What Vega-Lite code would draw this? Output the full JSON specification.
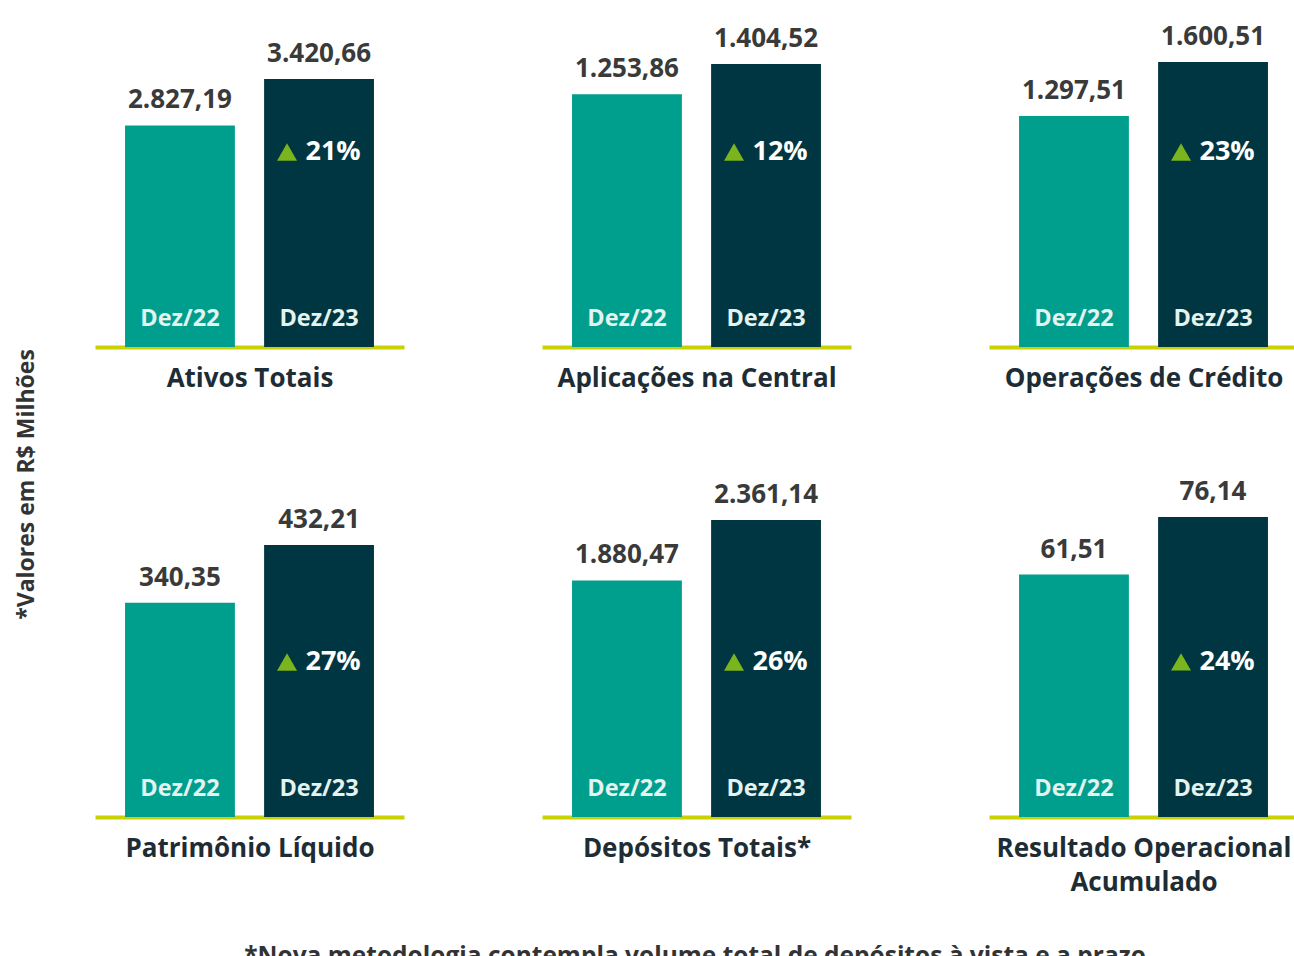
{
  "$schema": "https://vega.github.io/schema/vega-lite/v6.json",
  "background": "white",
  "padding": {"left": 15, "top": 23, "right": 0, "bottom": 0},
  "config": {
    "locale": {"number": {"decimal": ",", "thousands": ".", "grouping": [3], "currency": ["R$ ", ""]}},
    "view": {"stroke": null},
    "font": "Open Sans",
    "axisX": {"labels": false, "ticks": false, "domainColor": "#C9D200", "domainWidth": 4, "titleFontSize": 26, "titleFontWeight": "bold", "titleColor": "#1E2D35", "titlePadding": 18, "titleLineHeight": 34, "titleFont": "Open Sans"}
  },
  "data": {"values": [
    {"ind": "Ativos Totais", "periodo": "Dez/22", "valor": 2827.19},
    {"ind": "Ativos Totais", "periodo": "Dez/23", "valor": 3420.66, "var": 0.21},
    {"ind": "Aplicações na Central", "periodo": "Dez/22", "valor": 1253.86},
    {"ind": "Aplicações na Central", "periodo": "Dez/23", "valor": 1404.52, "var": 0.12},
    {"ind": "Operações de Crédito", "periodo": "Dez/22", "valor": 1297.51},
    {"ind": "Operações de Crédito", "periodo": "Dez/23", "valor": 1600.51, "var": 0.23},
    {"ind": "Patrimônio Líquido", "periodo": "Dez/22", "valor": 340.35},
    {"ind": "Patrimônio Líquido", "periodo": "Dez/23", "valor": 432.21, "var": 0.27},
    {"ind": "Depósitos Totais", "periodo": "Dez/22", "valor": 1880.47},
    {"ind": "Depósitos Totais", "periodo": "Dez/23", "valor": 2361.14, "var": 0.26},
    {"ind": "Resultado Operacional Acumulado", "periodo": "Dez/22", "valor": 61.51},
    {"ind": "Resultado Operacional Acumulado", "periodo": "Dez/23", "valor": 76.14, "var": 0.24}
  ]},
  "spacing": 40,
  "vconcat": [
    {
      "title": {"text": "*Valores em R$ Milhões", "orient": "left", "anchor": "middle", "fontSize": 23, "fontWeight": "bold", "color": "#333333", "offset": 56, "dx": -25, "font": "Open Sans"},
      "spacing": 87,
      "vconcat": [
        {
          "spacing": 138,
          "hconcat": [
            {
              "width": 309, "height": 320,
              "transform": [{"filter": "datum.ind == 'Ativos Totais'"}],
              "encoding": {
                "x": {"field": "periodo", "type": "nominal", "scale": {"paddingInner": 0.21, "paddingOuter": 0.216}, "axis": {"title": "Ativos Totais"}},
                "y": {"field": "valor", "type": "quantitative", "scale": {"domain": [0, 4084], "nice": false}, "axis": null}
              },
              "layer": [
                {"mark": {"type": "bar"}, "encoding": {"color": {"field": "periodo", "type": "nominal", "scale": {"domain": ["Dez/22", "Dez/23"], "range": ["#009E8C", "#003641"]}, "legend": null}}},
                {"mark": {"type": "text", "baseline": "alphabetic", "dy": -17, "fontSize": 26, "fontWeight": "bold", "color": "#3A3A3A"}, "encoding": {"text": {"field": "valor", "type": "quantitative", "format": ",.2f"}}},
                {"mark": {"type": "text", "baseline": "alphabetic", "dy": -21, "fontSize": 23.5, "fontWeight": "bold", "color": "#E4F3EF"}, "encoding": {"y": {"datum": 0}, "text": {"field": "periodo"}}},
                {"transform": [{"filter": "datum.var != null"}], "mark": {"type": "point", "shape": "triangle-up", "filled": true, "size": 400, "opacity": 1, "color": "#7AB51D", "xOffset": -32, "yOffset": 73}, "encoding": {}},
                {"transform": [{"filter": "datum.var != null"}], "mark": {"type": "text", "baseline": "middle", "align": "center", "xOffset": 14, "yOffset": 73, "fontSize": 27, "fontWeight": "bold", "color": "#FFFFFF"}, "encoding": {"text": {"field": "var", "type": "quantitative", "format": ".0%"}}}
              ]
            },
            {
              "width": 309, "height": 320,
              "transform": [{"filter": "datum.ind == 'Aplicações na Central'"}],
              "encoding": {
                "x": {"field": "periodo", "type": "nominal", "scale": {"paddingInner": 0.21, "paddingOuter": 0.216}, "axis": {"title": "Aplicações na Central"}},
                "y": {"field": "valor", "type": "quantitative", "scale": {"domain": [0, 1588], "nice": false}, "axis": null}
              },
              "layer": [
                {"mark": {"type": "bar"}, "encoding": {"color": {"field": "periodo", "type": "nominal", "scale": {"domain": ["Dez/22", "Dez/23"], "range": ["#009E8C", "#003641"]}, "legend": null}}},
                {"mark": {"type": "text", "baseline": "alphabetic", "dy": -17, "fontSize": 26, "fontWeight": "bold", "color": "#3A3A3A"}, "encoding": {"text": {"field": "valor", "type": "quantitative", "format": ",.2f"}}},
                {"mark": {"type": "text", "baseline": "alphabetic", "dy": -21, "fontSize": 23.5, "fontWeight": "bold", "color": "#E4F3EF"}, "encoding": {"y": {"datum": 0}, "text": {"field": "periodo"}}},
                {"transform": [{"filter": "datum.var != null"}], "mark": {"type": "point", "shape": "triangle-up", "filled": true, "size": 400, "opacity": 1, "color": "#7AB51D", "xOffset": -32, "yOffset": 88}, "encoding": {}},
                {"transform": [{"filter": "datum.var != null"}], "mark": {"type": "text", "baseline": "middle", "align": "center", "xOffset": 14, "yOffset": 88, "fontSize": 27, "fontWeight": "bold", "color": "#FFFFFF"}, "encoding": {"text": {"field": "var", "type": "quantitative", "format": ".0%"}}}
              ]
            },
            {
              "width": 309, "height": 320,
              "transform": [{"filter": "datum.ind == 'Operações de Crédito'"}],
              "encoding": {
                "x": {"field": "periodo", "type": "nominal", "scale": {"paddingInner": 0.21, "paddingOuter": 0.216}, "axis": {"title": "Operações de Crédito"}},
                "y": {"field": "valor", "type": "quantitative", "scale": {"domain": [0, 1797], "nice": false}, "axis": null}
              },
              "layer": [
                {"mark": {"type": "bar"}, "encoding": {"color": {"field": "periodo", "type": "nominal", "scale": {"domain": ["Dez/22", "Dez/23"], "range": ["#009E8C", "#003641"]}, "legend": null}}},
                {"mark": {"type": "text", "baseline": "alphabetic", "dy": -17, "fontSize": 26, "fontWeight": "bold", "color": "#3A3A3A"}, "encoding": {"text": {"field": "valor", "type": "quantitative", "format": ",.2f"}}},
                {"mark": {"type": "text", "baseline": "alphabetic", "dy": -21, "fontSize": 23.5, "fontWeight": "bold", "color": "#E4F3EF"}, "encoding": {"y": {"datum": 0}, "text": {"field": "periodo"}}},
                {"transform": [{"filter": "datum.var != null"}], "mark": {"type": "point", "shape": "triangle-up", "filled": true, "size": 400, "opacity": 1, "color": "#7AB51D", "xOffset": -32, "yOffset": 90}, "encoding": {}},
                {"transform": [{"filter": "datum.var != null"}], "mark": {"type": "text", "baseline": "middle", "align": "center", "xOffset": 14, "yOffset": 90, "fontSize": 27, "fontWeight": "bold", "color": "#FFFFFF"}, "encoding": {"text": {"field": "var", "type": "quantitative", "format": ".0%"}}}
              ]
            }
          ]
        },
        {
          "spacing": 138,
          "hconcat": [
            {
              "width": 309, "height": 320,
              "transform": [{"filter": "datum.ind == 'Patrimônio Líquido'"}],
              "encoding": {
                "x": {"field": "periodo", "type": "nominal", "scale": {"paddingInner": 0.21, "paddingOuter": 0.216}, "axis": {"title": "Patrimônio Líquido"}},
                "y": {"field": "valor", "type": "quantitative", "scale": {"domain": [0, 508.5], "nice": false}, "axis": null}
              },
              "layer": [
                {"mark": {"type": "bar"}, "encoding": {"color": {"field": "periodo", "type": "nominal", "scale": {"domain": ["Dez/22", "Dez/23"], "range": ["#009E8C", "#003641"]}, "legend": null}}},
                {"mark": {"type": "text", "baseline": "alphabetic", "dy": -17, "fontSize": 26, "fontWeight": "bold", "color": "#3A3A3A"}, "encoding": {"text": {"field": "valor", "type": "quantitative", "format": ",.2f"}}},
                {"mark": {"type": "text", "baseline": "alphabetic", "dy": -21, "fontSize": 23.5, "fontWeight": "bold", "color": "#E4F3EF"}, "encoding": {"y": {"datum": 0}, "text": {"field": "periodo"}}},
                {"transform": [{"filter": "datum.var != null"}], "mark": {"type": "point", "shape": "triangle-up", "filled": true, "size": 400, "opacity": 1, "color": "#7AB51D", "xOffset": -32, "yOffset": 117}, "encoding": {}},
                {"transform": [{"filter": "datum.var != null"}], "mark": {"type": "text", "baseline": "middle", "align": "center", "xOffset": 14, "yOffset": 117, "fontSize": 27, "fontWeight": "bold", "color": "#FFFFFF"}, "encoding": {"text": {"field": "var", "type": "quantitative", "format": ".0%"}}}
              ]
            },
            {
              "width": 309, "height": 320,
              "transform": [{"filter": "datum.ind == 'Depósitos Totais'"}],
              "encoding": {
                "x": {"field": "periodo", "type": "nominal", "scale": {"paddingInner": 0.21, "paddingOuter": 0.216}, "axis": {"title": "Depósitos Totais*"}},
                "y": {"field": "valor", "type": "quantitative", "scale": {"domain": [0, 2544], "nice": false}, "axis": null}
              },
              "layer": [
                {"mark": {"type": "bar"}, "encoding": {"color": {"field": "periodo", "type": "nominal", "scale": {"domain": ["Dez/22", "Dez/23"], "range": ["#009E8C", "#003641"]}, "legend": null}}},
                {"mark": {"type": "text", "baseline": "alphabetic", "dy": -17, "fontSize": 26, "fontWeight": "bold", "color": "#3A3A3A"}, "encoding": {"text": {"field": "valor", "type": "quantitative", "format": ",.2f"}}},
                {"mark": {"type": "text", "baseline": "alphabetic", "dy": -21, "fontSize": 23.5, "fontWeight": "bold", "color": "#E4F3EF"}, "encoding": {"y": {"datum": 0}, "text": {"field": "periodo"}}},
                {"transform": [{"filter": "datum.var != null"}], "mark": {"type": "point", "shape": "triangle-up", "filled": true, "size": 400, "opacity": 1, "color": "#7AB51D", "xOffset": -32, "yOffset": 142}, "encoding": {}},
                {"transform": [{"filter": "datum.var != null"}], "mark": {"type": "text", "baseline": "middle", "align": "center", "xOffset": 14, "yOffset": 142, "fontSize": 27, "fontWeight": "bold", "color": "#FFFFFF"}, "encoding": {"text": {"field": "var", "type": "quantitative", "format": ".0%"}}}
              ]
            },
            {
              "width": 309, "height": 320,
              "transform": [{"filter": "datum.ind == 'Resultado Operacional Acumulado'"}],
              "encoding": {
                "x": {"field": "periodo", "type": "nominal", "scale": {"paddingInner": 0.21, "paddingOuter": 0.216}, "axis": {"title": ["Resultado Operacional", "Acumulado"]}},
                "y": {"field": "valor", "type": "quantitative", "scale": {"domain": [0, 81.2], "nice": false}, "axis": null}
              },
              "layer": [
                {"mark": {"type": "bar"}, "encoding": {"color": {"field": "periodo", "type": "nominal", "scale": {"domain": ["Dez/22", "Dez/23"], "range": ["#009E8C", "#003641"]}, "legend": null}}},
                {"mark": {"type": "text", "baseline": "alphabetic", "dy": -17, "fontSize": 26, "fontWeight": "bold", "color": "#3A3A3A"}, "encoding": {"text": {"field": "valor", "type": "quantitative", "format": ",.2f"}}},
                {"mark": {"type": "text", "baseline": "alphabetic", "dy": -21, "fontSize": 23.5, "fontWeight": "bold", "color": "#E4F3EF"}, "encoding": {"y": {"datum": 0}, "text": {"field": "periodo"}}},
                {"transform": [{"filter": "datum.var != null"}], "mark": {"type": "point", "shape": "triangle-up", "filled": true, "size": 400, "opacity": 1, "color": "#7AB51D", "xOffset": -32, "yOffset": 145}, "encoding": {}},
                {"transform": [{"filter": "datum.var != null"}], "mark": {"type": "text", "baseline": "middle", "align": "center", "xOffset": 14, "yOffset": 145, "fontSize": 27, "fontWeight": "bold", "color": "#FFFFFF"}, "encoding": {"text": {"field": "var", "type": "quantitative", "format": ".0%"}}}
              ]
            }
          ]
        }
      ]
    },
    {
      "width": 1200, "height": 20,
      "data": {"values": [{"nota": "*Nova metodologia contempla volume total de depósitos à vista e a prazo"}]},
      "mark": {"type": "text", "align": "center", "baseline": "top", "fontSize": 24.5, "fontWeight": "bold", "color": "#333333"},
      "encoding": {"text": {"field": "nota"}}
    }
  ]
}
